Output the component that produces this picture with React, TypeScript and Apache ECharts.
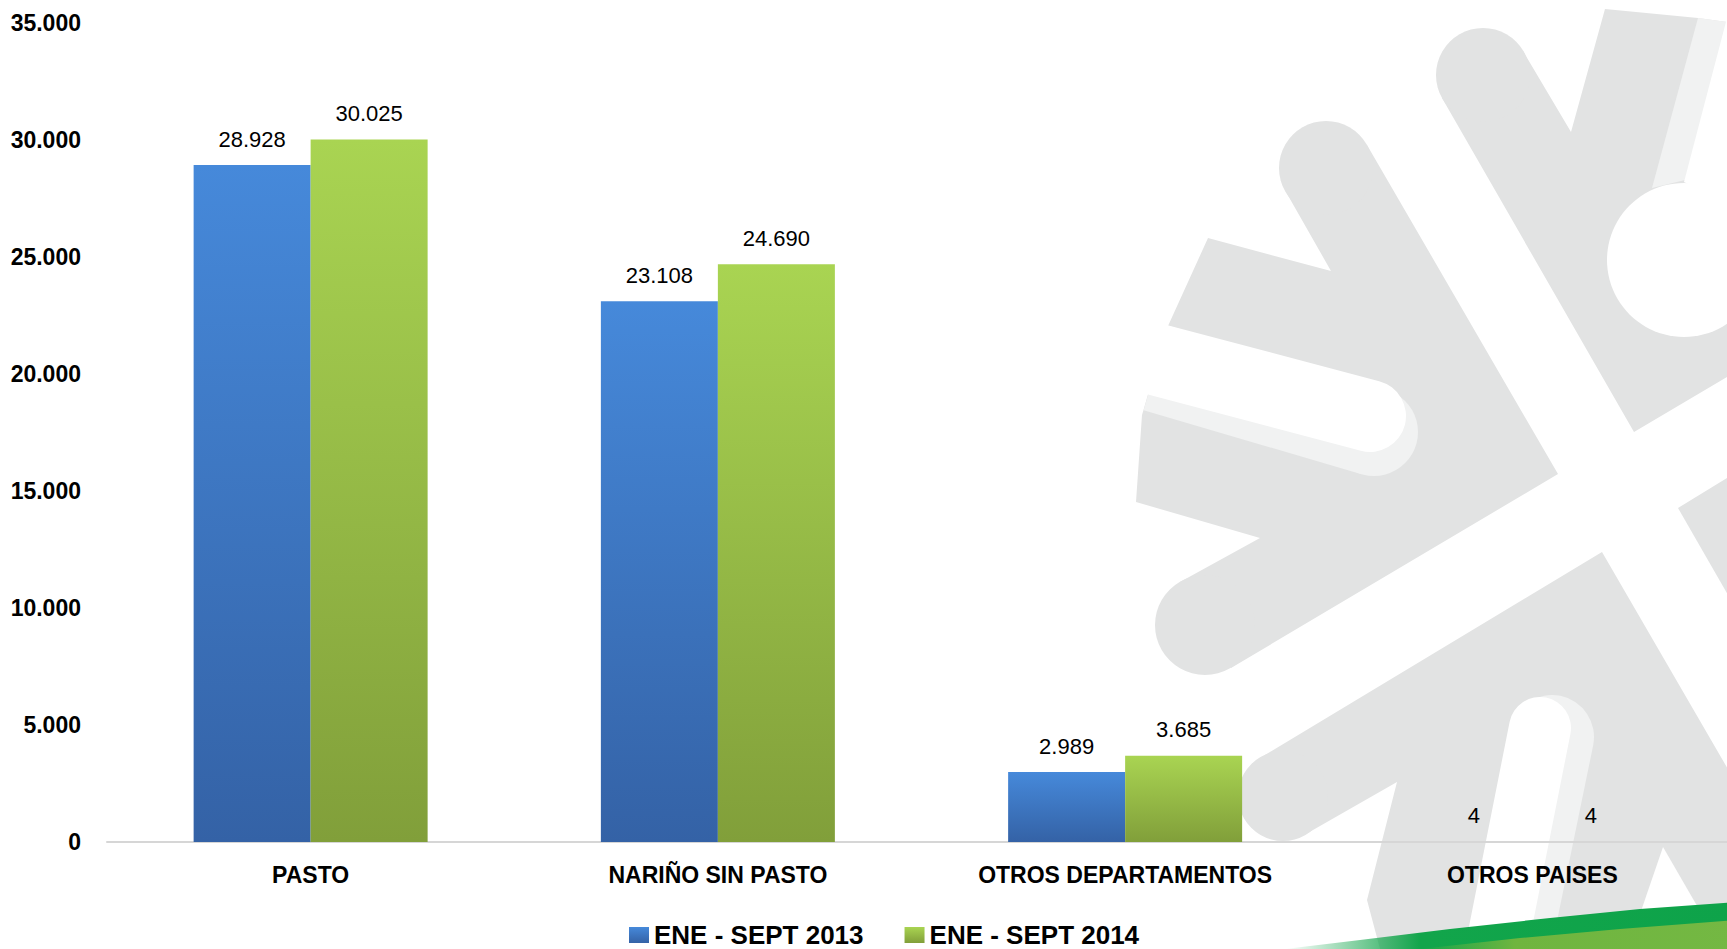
import React, { useEffect, useRef } from "react";
import * as echarts from "echarts";

const categories = ["PASTO", "NARIÑO SIN PASTO", "OTROS DEPARTAMENTOS", "OTROS PAISES"];
const seriesNames = ["ENE - SEPT 2013", "ENE - SEPT 2014"];
const values2013 = [28928, 23108, 2989, 4];
const values2014 = [30025, 24690, 3685, 4];
const yAxisMin = 0;
const yAxisMax = 35000;
const yAxisInterval = 5000;

const FONT = '"Liberation Sans", Arial, Helvetica, sans-serif';

const fmt = (v: number) => String(v).replace(/\B(?=(\d{3})+(?!\d))/g, ".");

const GREY = "#e2e3e3";
const LIGHT = "#f1f2f2";
const WHITE = "#ffffff";

function logoElements(): any[] {
  const els: any[] = [];
  const poly = (points: number[][], fill: any) => els.push({ type: "polygon", shape: { points }, style: { fill } });
  const circ = (cx: number, cy: number, r: number, fill: string) => els.push({ type: "circle", shape: { cx, cy, r }, style: { fill } });
  const line = (x1: number, y1: number, x2: number, y2: number, w: number, stroke: string, cap: string) =>
    els.push({ type: "line", shape: { x1, y1, x2, y2 }, style: { stroke, lineWidth: w, lineCap: cap } });

  // upper-left "W" mass
  poly([[1286, 192], [1331, 271], [1208, 238], [1168, 326], [1142, 415], [1136, 502], [1260, 538], [1180, 582], [1231, 668], [1558, 474], [1367, 145]], GREY);
  circ(1326, 168, 47, GREY);
  circ(1205, 625, 50, GREY);
  // upper-right arm
  poly([[1442, 98], [1634, 432], [1727, 377], [1727, 22], [1698, 18], [1605, 9], [1571, 132], [1523, 51]], GREY);
  circ(1483, 75, 47, GREY);
  poly([[1698, 18], [1727, 22], [1685, 180], [1652, 188]], LIGHT);
  poly([[1727, 18], [1740, 18], [1740, 210], [1684, 182]], WHITE);
  circ(1684, 260, 77, WHITE);
  // lower-right piece
  poly([[1678, 508], [1740, 470], [1740, 616]], GREY);
  // lower "A" mass
  poly([[1260, 758], [1602, 552], [1736, 783], [1736, 949], [1380, 949], [1367, 900], [1397, 782], [1306, 834]], GREY);
  circ(1283, 796, 45, GREY);
  // left tongue
  line(1156, 368, 1374, 432, 88, LIGHT, "butt");
  circ(1374, 432, 44, LIGHT);
  line(1090, 342, 1370, 416, 72, WHITE, "round");
  // bottom tongue
  line(1552, 737, 1502, 980, 84, LIGHT, "round");
  line(1540, 728, 1490, 980, 62, WHITE, "round");
  // bottom wedge
  poly([[1663, 847], [1628, 949], [1722, 949]], WHITE);
  // green swoosh
  poly(
    [[1285, 949], [1360, 940], [1450, 929], [1550, 918], [1640, 909], [1736, 902], [1736, 949]],
    new echarts.graphic.LinearGradient(0, 0, 1, 0, [
      { offset: 0, color: "rgba(18,165,75,0)" },
      { offset: 0.3, color: "#12a54b" },
      { offset: 1, color: "#0ea34a" },
    ])
  );
  poly(
    [[1420, 949], [1520, 938], [1620, 929], [1736, 920], [1736, 949]],
    new echarts.graphic.LinearGradient(0, 0, 1, 0, [
      { offset: 0, color: "rgba(112,182,64,0)" },
      { offset: 0.3, color: "#6fb53f" },
      { offset: 1, color: "#74b843" },
    ])
  );
  return els.map((e, i) => ({ ...e, z: -10, z2: i, silent: true }));
}

const blueFill = new echarts.graphic.LinearGradient(0, 0, 0, 1, [
  { offset: 0, color: "#4689da" },
  { offset: 1, color: "#3462a6" },
]);
const greenFill = new echarts.graphic.LinearGradient(0, 0, 0, 1, [
  { offset: 0, color: "#a9d452" },
  { offset: 1, color: "#819f3a" },
]);

export default function App() {
  const ref = useRef<HTMLDivElement>(null);
  useEffect(() => {
    const chart = echarts.init(ref.current!, null, { renderer: "svg" });
    const labelCfg = {
      show: true,
      position: "top",
      distance: 15,
      fontSize: 22,
      color: "#000",
      fontFamily: FONT,
      formatter: (p: any) => fmt(p.value),
    };
    chart.setOption({
      animation: false,
      backgroundColor: "#ffffff",
      textStyle: { fontFamily: FONT },
      graphic: { elements: logoElements() },
      grid: { left: 107, right: 0, top: 23, bottom: 107, containLabel: false },
      legend: {
        data: seriesNames,
        left: 629,
        top: 922,
        padding: 0,
        itemWidth: 20,
        itemHeight: 16,
        itemGap: 41,
        icon: "rect",
        textStyle: { fontSize: 26, fontWeight: "bold", color: "#000", fontFamily: FONT, lineHeight: 26 },
      },
      xAxis: {
        type: "category",
        data: categories,
        axisLine: { lineStyle: { color: "#d6d6d6", width: 2 } },
        axisTick: { show: false },
        axisLabel: { interval: 0, color: "#000", fontWeight: "bold", fontSize: 23, margin: 21, fontFamily: FONT },
      },
      yAxis: {
        type: "value",
        min: yAxisMin,
        max: yAxisMax,
        interval: yAxisInterval,
        splitLine: { show: false },
        axisLine: { show: false },
        axisTick: { show: false },
        axisLabel: { color: "#000", fontWeight: "bold", fontSize: 23, margin: 26, fontFamily: FONT, formatter: (v: number) => fmt(v) },
      },
      series: [
        {
          name: seriesNames[0],
          type: "bar",
          data: values2013,
          barWidth: 117,
          barGap: "0%",
          itemStyle: { color: blueFill },
          label: labelCfg,
        },
        {
          name: seriesNames[1],
          type: "bar",
          data: values2014,
          barWidth: 117,
          barGap: "0%",
          itemStyle: { color: greenFill },
          label: labelCfg,
        },
      ],
    });
    return () => chart.dispose();
  }, []);
  return (
    <div style={{ position: "absolute", left: 0, top: 0, width: 1727, height: 949, overflow: "hidden", background: "#fff" }}>
      <div ref={ref} style={{ width: 1736, height: 949 }} />
    </div>
  );
}
